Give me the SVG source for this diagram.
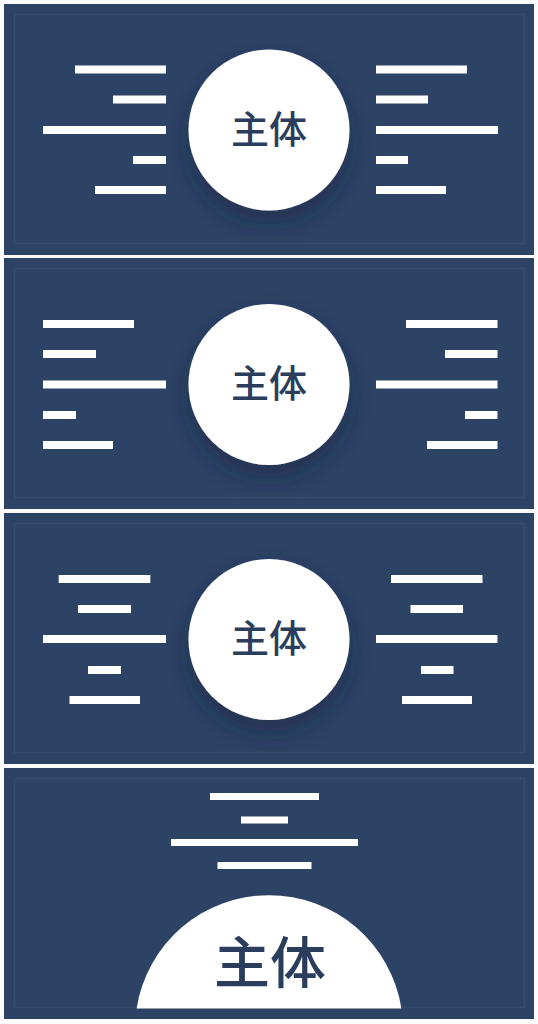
<svg xmlns="http://www.w3.org/2000/svg" width="538" height="1024" viewBox="0 0 538 1024">
  <defs>
    <style>
      .panel { fill: #2d4365; }
      .inner { fill: none; stroke: #364c6e; stroke-width: 1.5; }
      .bar { fill: #ffffff; }
      .disc { fill: #ffffff; }
      .label { fill: #2b3d5c; font-family: "Noto Sans CJK SC", "Noto Sans", sans-serif; font-weight: 500; text-anchor: middle; dominant-baseline: central; }
    </style>
    <filter id="shadow" x="-40%" y="-40%" width="180%" height="190%">
      <feDropShadow dx="0" dy="12" stdDeviation="12" flood-color="#17233a" flood-opacity="0.5"/>
    </filter>
  </defs>
  <rect width="538" height="1024" fill="#fbfbfb"/>

  <!-- Panel 1 -->
  <g id="panel1">
    <rect class="panel" x="4" y="4" width="530" height="251"/>
    <rect class="inner" x="14.5" y="14.5" width="510" height="229"/>
    <g id="p1-left">
      <rect class="bar" x="75" y="65.5" width="91" height="8"/>
      <rect class="bar" x="113" y="95.5" width="53" height="8"/>
      <rect class="bar" x="43" y="126" width="123" height="8"/>
      <rect class="bar" x="133" y="156" width="33" height="8"/>
      <rect class="bar" x="95" y="186" width="71" height="8"/>
    </g>
    <g id="p1-right">
      <rect class="bar" x="376" y="65.5" width="91" height="8"/>
      <rect class="bar" x="376" y="95.5" width="52" height="8"/>
      <rect class="bar" x="376" y="126" width="122" height="8"/>
      <rect class="bar" x="376" y="156" width="32" height="8"/>
      <rect class="bar" x="376" y="186" width="70" height="8"/>
    </g>
    <g id="p1-node">
      <circle class="disc" cx="269" cy="130" r="80.5" filter="url(#shadow)"/>
      <text class="label" x="269" y="126" font-size="38">主体</text>
    </g>
  </g>

  <!-- Panel 2 -->
  <g id="panel2">
    <rect class="panel" x="4" y="258" width="530" height="251"/>
    <rect class="inner" x="14.5" y="268.5" width="510" height="229"/>
    <g id="p2-left">
      <rect class="bar" x="43" y="320" width="91" height="8"/>
      <rect class="bar" x="43" y="350" width="53" height="8"/>
      <rect class="bar" x="43" y="380.5" width="123" height="8"/>
      <rect class="bar" x="43" y="411" width="33" height="8"/>
      <rect class="bar" x="43" y="441" width="70" height="8"/>
    </g>
    <g id="p2-right">
      <rect class="bar" x="406" y="320" width="91.5" height="8"/>
      <rect class="bar" x="445" y="350" width="52.5" height="8"/>
      <rect class="bar" x="376" y="380.5" width="121.5" height="8"/>
      <rect class="bar" x="465" y="411" width="32.5" height="8"/>
      <rect class="bar" x="427" y="441" width="70.5" height="8"/>
    </g>
    <g id="p2-node">
      <circle class="disc" cx="269" cy="384.5" r="80.5" filter="url(#shadow)"/>
      <text class="label" x="269" y="380.5" font-size="38">主体</text>
    </g>
  </g>

  <!-- Panel 3 -->
  <g id="panel3">
    <rect class="panel" x="4" y="513" width="530" height="251"/>
    <rect class="inner" x="14.5" y="523.5" width="510" height="229"/>
    <g id="p3-left">
      <rect class="bar" x="58.7" y="575" width="91.6" height="8"/>
      <rect class="bar" x="78" y="605" width="53" height="8"/>
      <rect class="bar" x="43" y="635" width="123" height="8"/>
      <rect class="bar" x="88" y="666" width="33" height="8"/>
      <rect class="bar" x="69.5" y="696" width="70.5" height="8"/>
    </g>
    <g id="p3-right">
      <rect class="bar" x="391" y="575" width="91.5" height="8"/>
      <rect class="bar" x="410.5" y="605" width="52.5" height="8"/>
      <rect class="bar" x="376" y="635" width="121.5" height="8"/>
      <rect class="bar" x="421" y="666" width="32.5" height="8"/>
      <rect class="bar" x="402" y="696" width="70" height="8"/>
    </g>
    <g id="p3-node">
      <circle class="disc" cx="269" cy="639.5" r="80.5" filter="url(#shadow)"/>
      <text class="label" x="269" y="635.5" font-size="38">主体</text>
    </g>
  </g>

  <!-- Panel 4 -->
  <g id="panel4">
    <rect class="panel" x="4" y="768" width="530" height="251"/>
    <rect class="inner" x="14.5" y="778.5" width="510" height="229"/>
    <g id="p4-top">
      <rect class="bar" x="210" y="793" width="109" height="7"/>
      <rect class="bar" x="241" y="816.5" width="47" height="7"/>
      <rect class="bar" x="171" y="839" width="187" height="7"/>
      <rect class="bar" x="217.5" y="862" width="94" height="7"/>
    </g>
    <g id="p4-node">
      <path class="disc" d="M136.6,1008.5 A134,134 0 0 1 401.4,1008.5 Z"/>
      <text class="label" x="270" y="958" font-size="56">主体</text>
    </g>
  </g>
</svg>
